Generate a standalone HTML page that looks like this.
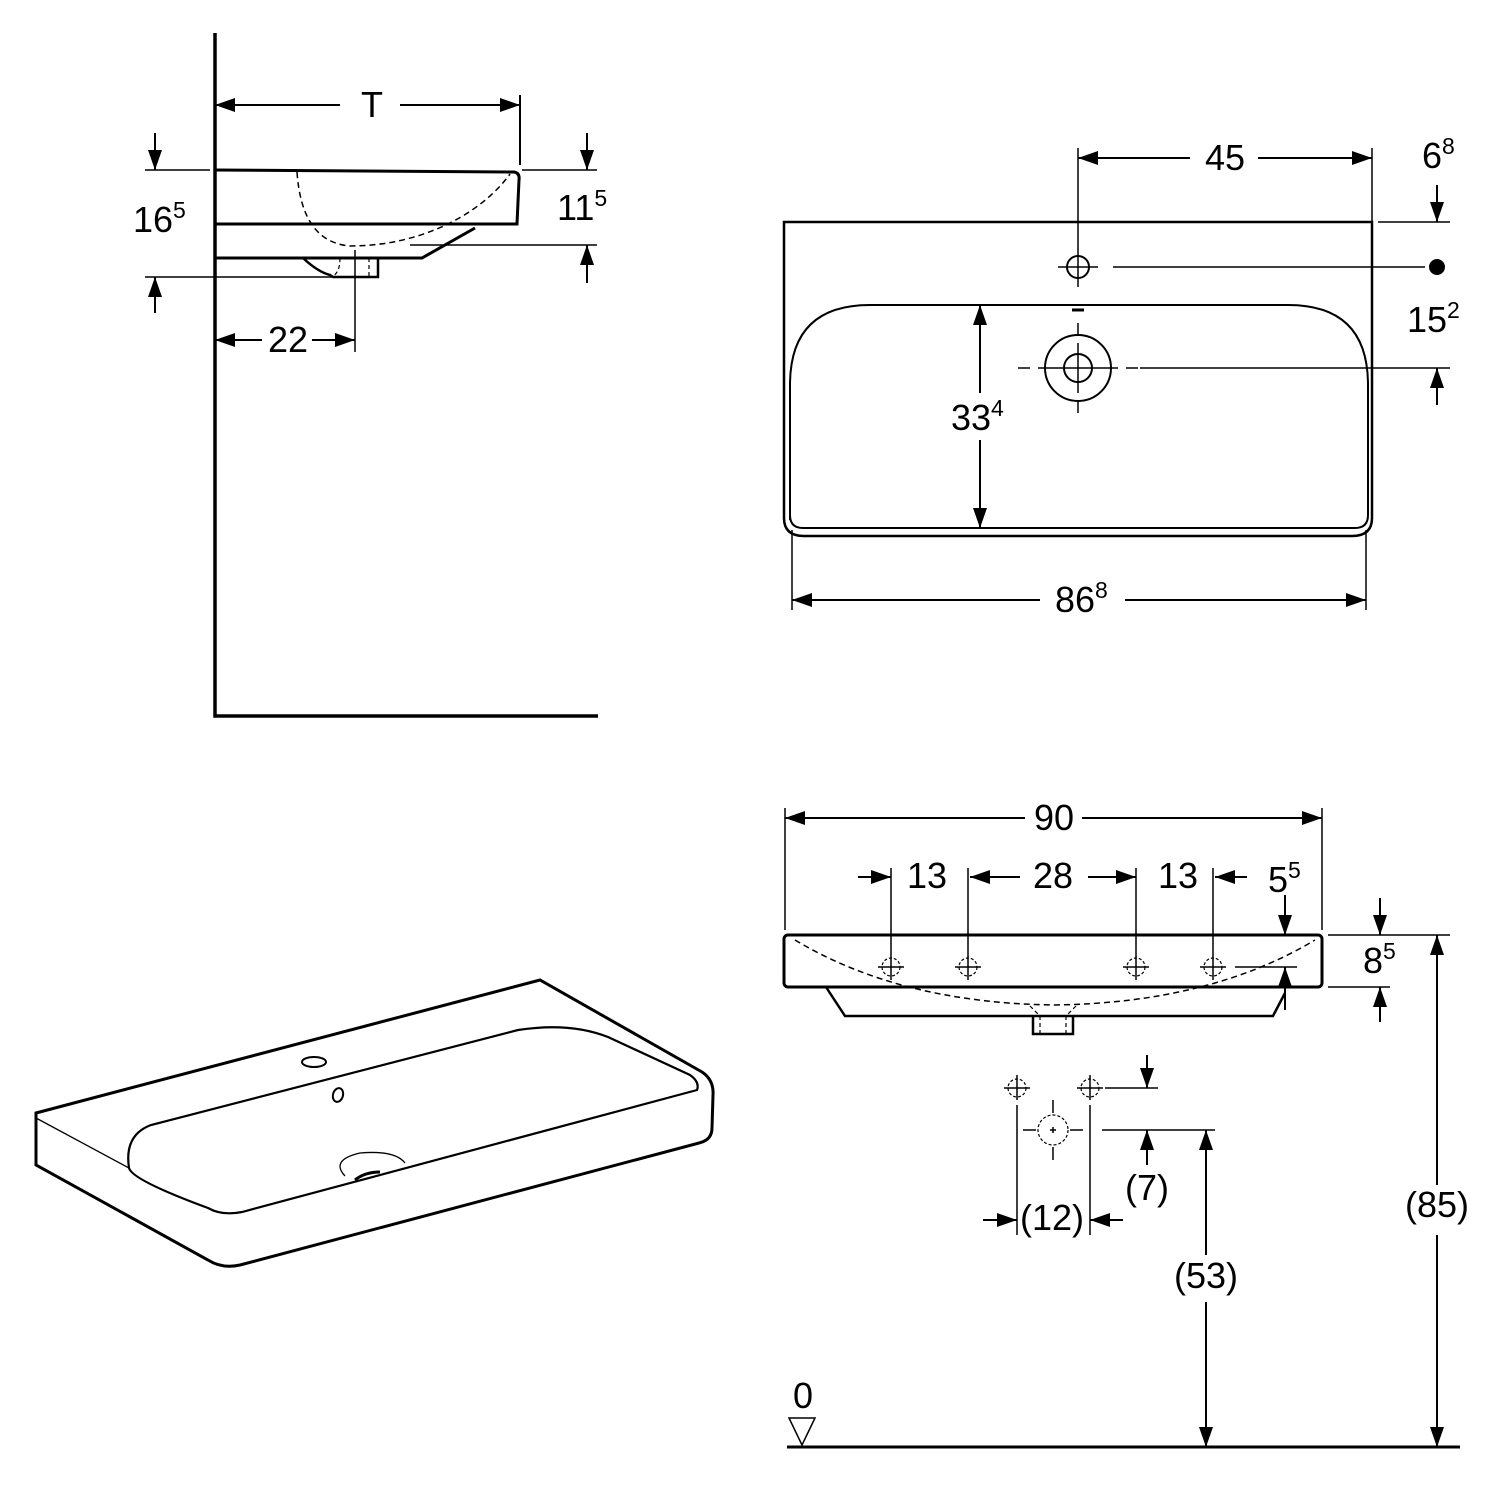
<!DOCTYPE html>
<html><head><meta charset="utf-8"><style>
html,body{margin:0;padding:0;background:#fff}
svg{display:block}
text{font-family:"Liberation Sans",sans-serif;font-size:36px;fill:#000}
.s{font-size:23px}
</style></head><body>
<svg width="1500" height="1500" viewBox="0 0 1500 1500" xmlns="http://www.w3.org/2000/svg">
<defs>
<marker id="a" viewBox="0 0 20 14" refX="20" refY="7" markerWidth="20" markerHeight="14" markerUnits="userSpaceOnUse" orient="auto-start-reverse"><path d="M0,0 L20,7 L0,14 z" fill="#000"/></marker>
</defs>
<g fill="none" stroke="#000" stroke-width="2">
<!-- TOP LEFT side view -->
<path d="M215,33 V716 H598" stroke-width="3.5"/>
<line x1="215" y1="105" x2="340" y2="105" marker-start="url(#a)"/>
<line x1="400" y1="105" x2="520" y2="105" marker-end="url(#a)"/>
<line x1="520" y1="95" x2="520" y2="165"/>
<path d="M215,170 L514,172 Q520,173 519,180 L517,224 H215" stroke-width="3"/>
<path d="M215,258 H422 L475,228" stroke-width="3"/>
<path d="M303,258 Q318,272 330,275 L333,277 H378 V258" stroke-width="2.5"/>
<path d="M297,172 C300,215 315,243 350,246 C420,246 480,215 510,174" stroke-dasharray="6,4" stroke-width="1.5"/>
<path d="M340,258 Q340,272 333,276 M369,258 V277" stroke-dasharray="4,3" stroke-width="1.2"/>
<line x1="155" y1="133" x2="155" y2="170" marker-end="url(#a)"/>
<line x1="145" y1="170" x2="210" y2="170" stroke-width="1.5"/>
<line x1="145" y1="277" x2="333" y2="277" stroke-width="1.5"/>
<line x1="155" y1="313" x2="155" y2="277" marker-end="url(#a)"/>
<line x1="522" y1="170" x2="597" y2="170" stroke-width="1.5"/>
<line x1="587" y1="133" x2="587" y2="170" marker-end="url(#a)"/>
<line x1="410" y1="245" x2="597" y2="245" stroke-width="1.5"/>
<line x1="587" y1="283" x2="587" y2="245" marker-end="url(#a)"/>
<line x1="355" y1="250" x2="355" y2="352" stroke-width="1.5"/>
<line x1="215" y1="340" x2="262" y2="340" marker-start="url(#a)"/>
<line x1="312" y1="340" x2="355" y2="340" marker-end="url(#a)"/>

<!-- TOP RIGHT plan view -->
<path d="M784,222 H1372 V518 Q1372,536 1352,536 H804 Q784,536 784,518 Z" stroke-width="2.5"/>
<path d="M790,520 V385 Q790,305 870,305 H1288 Q1368,305 1368,385 V515 Q1368,528 1355,528 H803 Q790,528 790,515" stroke-width="2"/>
<circle cx="1078" cy="267" r="11"/>
<line x1="1058" y1="267" x2="1098" y2="267" stroke-width="1.5"/>
<line x1="1078" y1="232" x2="1078" y2="287" stroke-width="1.5"/>
<line x1="1113" y1="267" x2="1425" y2="267" stroke-width="1.5"/>
<circle cx="1437" cy="267" r="7" fill="#000"/>
<line x1="1072" y1="310" x2="1084" y2="310" stroke-width="3"/>
<circle cx="1078" cy="368" r="33"/>
<circle cx="1078" cy="368" r="14"/>
<path d="M1018,368 H1030 M1038,368 H1118 M1126,368 H1138 M1078,323 V335 M1078,343 V393 M1078,401 V413" stroke-width="1.5"/>
<line x1="1140" y1="368" x2="1450" y2="368" stroke-width="1.5"/>
<line x1="1078" y1="148" x2="1078" y2="232" stroke-width="1.5"/>
<line x1="1372" y1="148" x2="1372" y2="222" stroke-width="1.5"/>
<line x1="1078" y1="158" x2="1190" y2="158" marker-start="url(#a)"/>
<line x1="1258" y1="158" x2="1372" y2="158" marker-end="url(#a)"/>
<line x1="1378" y1="222" x2="1450" y2="222" stroke-width="1.5"/>
<line x1="1437" y1="185" x2="1437" y2="222" marker-end="url(#a)"/>
<line x1="1437" y1="405" x2="1437" y2="368" marker-end="url(#a)"/>
<line x1="980" y1="305" x2="980" y2="393" marker-start="url(#a)"/>
<line x1="980" y1="440" x2="980" y2="528" marker-end="url(#a)"/>
<line x1="792" y1="530" x2="792" y2="610" stroke-width="1.5"/>
<line x1="1366" y1="530" x2="1366" y2="610" stroke-width="1.5"/>
<line x1="792" y1="600" x2="1040" y2="600" marker-start="url(#a)"/>
<line x1="1125" y1="600" x2="1366" y2="600" marker-end="url(#a)"/>

<!-- BOTTOM LEFT perspective -->
<path d="M36,1113 L540,980 L702,1072 Q714,1080 713,1095 L712,1128 Q712,1140 699,1143 L240,1265 Q222,1269 208,1260 L36,1165 Z" stroke-width="3"/>
<line x1="36" y1="1118" x2="129" y2="1168" stroke-width="1.3"/>
<path d="M129,1168 Q124,1135 151,1125 L518,1030 Q570,1022 608,1037 L690,1075 Q700,1082 697,1090 L242,1212 Q222,1216 208,1208 Q132,1180 129,1168" stroke-width="2.2"/>
<ellipse cx="314" cy="1062" rx="12" ry="5"/>
<ellipse cx="338" cy="1095" rx="5" ry="7" transform="rotate(15 338 1095)"/>
<path d="M345,1176 Q330,1160 360,1153 Q395,1150 405,1163" stroke-width="1.3"/>
<path d="M355,1180 Q365,1172 380,1172" stroke-width="3"/>

<!-- BOTTOM RIGHT front view -->
<line x1="785" y1="808" x2="785" y2="930" stroke-width="1.5"/>
<line x1="1322" y1="808" x2="1322" y2="930" stroke-width="1.5"/>
<line x1="785" y1="818" x2="1025" y2="818" marker-start="url(#a)"/>
<line x1="1082" y1="818" x2="1322" y2="818" marker-end="url(#a)"/>
<rect x="784" y="935" width="538" height="52" rx="4" stroke-width="3"/>
<path d="M826,987 L845,1016 H1273 L1285,993" stroke-width="2.5"/>
<path d="M1033,1016 V1034 H1073 V1016" stroke-width="2.5"/>
<path d="M1040,1016 V1034 M1066,1016 V1034 M1030,1006 L1040,1016 M1076,1006 L1066,1016" stroke-dasharray="4,3" stroke-width="1.2"/>
<path d="M795,940 Q900,1003 1054,1005 Q1210,1003 1315,940" stroke-dasharray="6,4" stroke-width="1.5"/>
<g stroke-width="1.5">
<path d="M891,868 V980 M968,868 V980 M1136,868 V980 M1213,868 V980"/>
<path d="M878,967 H904 M955,967 H981 M1123,967 H1149 M1200,967 H1226"/>
</g>
<g stroke-dasharray="3,2" stroke-width="1.2">
<circle cx="891" cy="967" r="9"/><circle cx="968" cy="967" r="9"/><circle cx="1136" cy="967" r="9"/><circle cx="1213" cy="967" r="9"/>
</g>
<line x1="858" y1="877" x2="891" y2="877" marker-end="url(#a)"/>
<line x1="1020" y1="877" x2="970" y2="877" marker-end="url(#a)"/>
<line x1="1088" y1="877" x2="1136" y2="877" marker-end="url(#a)"/>
<line x1="1247" y1="877" x2="1215" y2="877" marker-end="url(#a)"/>
<line x1="1285" y1="895" x2="1285" y2="935" marker-end="url(#a)"/>
<line x1="1235" y1="967" x2="1297" y2="967" stroke-width="1.5"/>
<line x1="1285" y1="1010" x2="1285" y2="967" marker-end="url(#a)"/>
<line x1="1328" y1="935" x2="1450" y2="935" stroke-width="1.5"/>
<line x1="1328" y1="987" x2="1390" y2="987" stroke-width="1.5"/>
<line x1="1380" y1="898" x2="1380" y2="935" marker-end="url(#a)"/>
<line x1="1380" y1="1022" x2="1380" y2="987" marker-end="url(#a)"/>
<line x1="1437" y1="935" x2="1437" y2="1185" marker-start="url(#a)"/>
<line x1="1437" y1="1235" x2="1437" y2="1447" marker-end="url(#a)"/>
<line x1="787" y1="1447" x2="1460" y2="1447" stroke-width="3"/>
<path d="M789,1418 H815 L802,1445 Z" stroke-width="1.5"/>
<g stroke-width="1.5">
<path d="M1004,1088 H1030 M1017,1075 V1100 M1077,1088 H1103 M1090,1075 V1100"/>
<path d="M1017,1105 V1235 M1090,1105 V1235"/>
<path d="M1023,1130 H1036 M1070,1130 H1083 M1053,1100 V1113 M1053,1147 V1160"/>
<path d="M1050,1130 H1056 M1053,1127 V1133"/>
</g>
<g stroke-dasharray="3,2" stroke-width="1.2">
<circle cx="1017" cy="1088" r="9"/><circle cx="1090" cy="1088" r="9"/><circle cx="1053" cy="1130" r="15"/>
</g>
<line x1="983" y1="1220" x2="1017" y2="1220" marker-end="url(#a)"/>
<line x1="1123" y1="1220" x2="1090" y2="1220" marker-end="url(#a)"/>
<line x1="1147" y1="1055" x2="1147" y2="1088" marker-end="url(#a)"/>
<line x1="1105" y1="1088" x2="1158" y2="1088" stroke-width="1.5"/>
<line x1="1147" y1="1165" x2="1147" y2="1130" marker-end="url(#a)"/>
<line x1="1102" y1="1130" x2="1215" y2="1130" stroke-width="1.5"/>
<line x1="1206" y1="1130" x2="1206" y2="1255" marker-start="url(#a)"/>
<line x1="1206" y1="1302" x2="1206" y2="1447" marker-end="url(#a)"/>
</g>

<text x="372" y="117" text-anchor="middle">T</text>
<text x="133" y="232">16<tspan class="s" dy="-14">5</tspan></text>
<text x="557" y="220">11<tspan class="s" dy="-14">5</tspan></text>
<text x="288" y="352" text-anchor="middle">22</text>
<text x="1225" y="170" text-anchor="middle">45</text>
<text x="1422" y="168">6<tspan class="s" dy="-14">8</tspan></text>
<text x="1407" y="332">15<tspan class="s" dy="-14">2</tspan></text>
<text x="951" y="430">33<tspan class="s" dy="-14">4</tspan></text>
<text x="1055" y="612">86<tspan class="s" dy="-14">8</tspan></text>
<text x="1054" y="830" text-anchor="middle">90</text>
<text x="927" y="888" text-anchor="middle">13</text>
<text x="1053" y="888" text-anchor="middle">28</text>
<text x="1178" y="888" text-anchor="middle">13</text>
<text x="1268" y="892">5<tspan class="s" dy="-14">5</tspan></text>
<text x="1363" y="973">8<tspan class="s" dy="-14">5</tspan></text>
<text x="1437" y="1217" text-anchor="middle">(85)</text>
<text x="1052" y="1230" text-anchor="middle">(12)</text>
<text x="1147" y="1200" text-anchor="middle">(7)</text>
<text x="1206" y="1288" text-anchor="middle">(53)</text>
<text x="803" y="1408" text-anchor="middle">0</text>
</svg>
</body></html>
